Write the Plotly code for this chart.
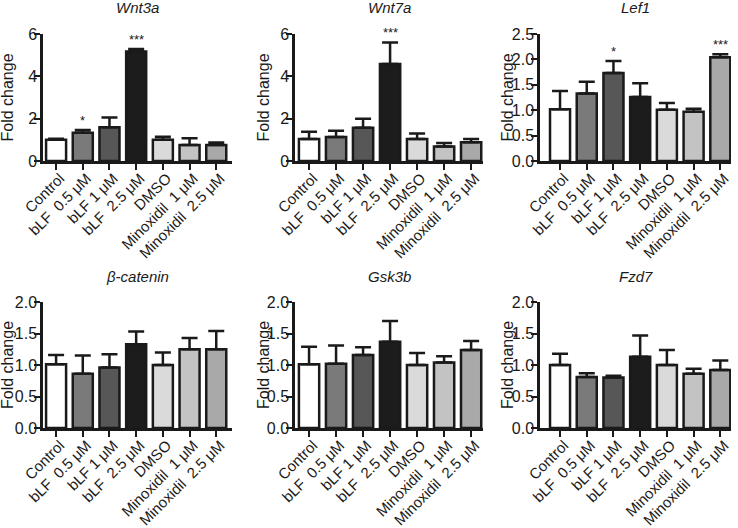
import plotly.graph_objects as go
from plotly.subplots import make_subplots

# categories / conditions
conditions = ["Control", "bLF\u00a0 0.5 μM", "bLF 1 μM", "bLF\u00a0 2.5 μM", "DMSO",
              "Minoxidil\u00a0 1 μM", "Minoxidil\u00a0 2.5 μM"]
bar_colors = ["#ffffff", "#7a7a7a", "#575757", "#1c1c1c", "#dadada", "#c3c3c3", "#a9a9a9"]

# fold change means and upper error (SEM) per gene
wnt3a_mean = [1.00, 1.34, 1.59, 5.17, 1.00, 0.76, 0.76]
wnt3a_err = [0.05, 0.12, 0.47, 0.12, 0.15, 0.31, 0.11]
wnt3a_sig = ["", "*", "", "***", "", "", ""]

wnt7a_mean = [1.04, 1.13, 1.57, 4.58, 1.04, 0.69, 0.89]
wnt7a_err = [0.34, 0.30, 0.43, 1.02, 0.26, 0.16, 0.15]
wnt7a_sig = ["", "", "", "***", "", "", ""]

lef1_mean = [1.02, 1.33, 1.73, 1.26, 1.01, 0.97, 2.04]
lef1_err = [0.36, 0.23, 0.24, 0.27, 0.13, 0.06, 0.06]
lef1_sig = ["", "", "*", "", "", "", "***"]

bcat_mean = [1.01, 0.86, 0.96, 1.33, 1.00, 1.25, 1.25]
bcat_err = [0.15, 0.29, 0.21, 0.20, 0.20, 0.18, 0.29]

gsk3b_mean = [1.01, 1.02, 1.16, 1.37, 1.00, 1.04, 1.24]
gsk3b_err = [0.28, 0.29, 0.12, 0.33, 0.19, 0.10, 0.14]

fzd7_mean = [1.00, 0.81, 0.80, 1.13, 1.00, 0.86, 0.92]
fzd7_err = [0.18, 0.06, 0.03, 0.34, 0.24, 0.08, 0.15]

panels = [
    ("Wnt3a", wnt3a_mean, wnt3a_err, wnt3a_sig, [0, 6], [0, 2, 4, 6], 1, 1),
    ("Wnt7a", wnt7a_mean, wnt7a_err, wnt7a_sig, [0, 6], [0, 2, 4, 6], 1, 2),
    ("Lef1", lef1_mean, lef1_err, lef1_sig, [0, 2.5], [0, 0.5, 1, 1.5, 2, 2.5], 1, 3),
    ("β-catenin", bcat_mean, bcat_err, None, [0, 2], [0, 0.5, 1, 1.5, 2], 2, 1),
    ("Gsk3b", gsk3b_mean, gsk3b_err, None, [0, 2], [0, 0.5, 1, 1.5, 2], 2, 2),
    ("Fzd7", fzd7_mean, fzd7_err, None, [0, 2], [0, 0.5, 1, 1.5, 2], 2, 3),
]

W, H = 738, 528


def fx(px):
    return px / W


def fy(py):
    return (H - py) / H


# pixel positions
col_px = {1: (43, 232), 2: (295, 483), 3: (540, 731)}
row_px = {1: (34, 161), 2: (302, 428)}
xranges = {1: [-0.49, 6.59], 2: [-0.52, 6.44], 3: [-0.75, 6.4]}
ytitle_x = {1: 7, 2: 263, 3: 507}

FONT = "Liberation Sans, Arial, sans-serif"
INK = "#1a1a1a"

fig = make_subplots(rows=2, cols=3)

for name, mean, err, sig, yr, ytv, r, c in panels:
    fig.add_trace(go.Bar(
        x=list(range(len(conditions))), y=mean, width=0.75,
        marker=dict(color=bar_colors, line=dict(color=INK, width=2.5)),
        error_y=dict(type="data", array=err, arrayminus=[0] * len(err),
                     symmetric=False, color=INK, thickness=2.5, width=8),
        showlegend=False, hoverinfo="skip",
    ), row=r, col=c)

    x0, x1 = col_px[c]
    y0, y1 = row_px[r]
    fig.update_xaxes(domain=[fx(x0), fx(x1)], range=xranges[c],
                     tickmode="array", tickvals=list(range(len(conditions))),
                     ticktext=conditions, tickangle=-45,
                     ticklabelshift=4, ticklabelstandoff=-6,
                     showline=True, linecolor=INK, linewidth=2.5,
                     ticks="outside", ticklen=6, tickwidth=2, tickcolor=INK,
                     showgrid=False, zeroline=False, automargin=False,
                     tickfont=dict(size=15, color=INK, family=FONT),
                     row=r, col=c)
    fmt = ".1f" if yr[1] < 3 else "d"
    fig.update_yaxes(domain=[fy(y1), fy(y0)], range=yr,
                     tickvals=ytv, tickformat=fmt, ticklabelstandoff=-6,
                     showline=True, linecolor=INK, linewidth=2.5,
                     ticks="outside", ticklen=6, tickwidth=2, tickcolor=INK,
                     showgrid=False, zeroline=False, automargin=False,
                     tickfont=dict(size=16, color=INK, family=FONT),
                     row=r, col=c)

    # panel title
    fig.add_annotation(x=fx((x0 + x1) / 2), y=fy(y0 - 26), xref="paper", yref="paper",
                       xanchor="center", yanchor="middle",
                       text=f"<i>{name}</i>", showarrow=False,
                       font=dict(size=15, color=INK, family=FONT))
    # y title
    fig.add_annotation(x=fx(ytitle_x[c]), y=fy((y0 + y1) / 2), xref="paper", yref="paper",
                       xanchor="center", yanchor="middle",
                       text="Fold change", textangle=-90, showarrow=False,
                       font=dict(size=16, color=INK, family=FONT))

    # significance markers
    if sig:
        idx = (r - 1) * 3 + c
        xref = "x" if idx == 1 else f"x{idx}"
        yref = "y" if idx == 1 else f"y{idx}"
        for i, s in enumerate(sig):
            if s:
                fig.add_annotation(x=i, y=mean[i] + err[i], xref=xref, yref=yref,
                                   text=s, showarrow=False, yanchor="bottom", yshift=0,
                                   font=dict(size=13, color=INK, family=FONT))

fig.update_layout(
    width=W, height=H,
    margin=dict(l=0, r=0, t=0, b=0),
    paper_bgcolor="white", plot_bgcolor="white",
    template="none",
    bargap=0.2,
    font=dict(family=FONT, color=INK),
)

# drop the default 8px body margin so the figure sits at the window's corner
fig.write_html("out.html", config={"displayModeBar": False},
               post_script="document.body.style.margin='0';")
